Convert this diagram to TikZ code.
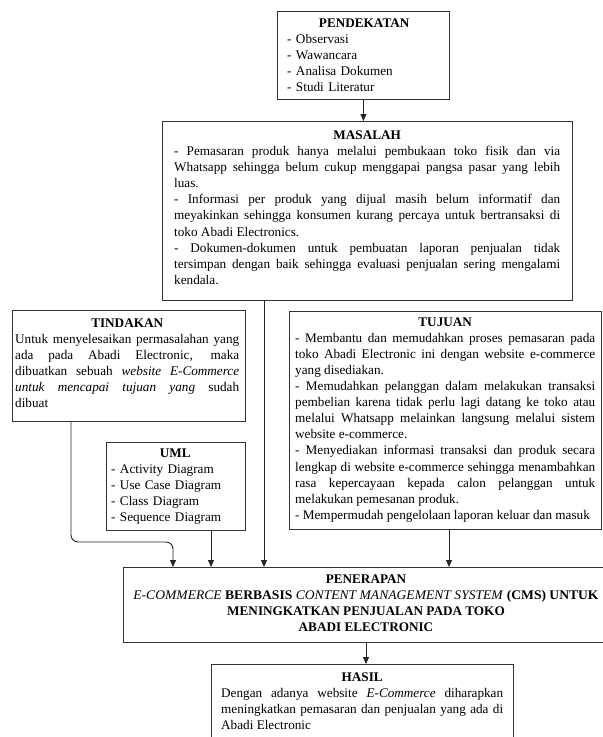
\documentclass[tikz,border=0pt]{standalone}
\usepackage{fontspec}
\setmainfont{Liberation Serif}
\usetikzlibrary{arrows.meta,calc}
\newcommand\myparset{\parindent=0pt \hyphenpenalty=10000 \exhyphenpenalty=10000 \relax}
\begin{document}
\begin{tikzpicture}[x=1pt,y=-1pt,
  box/.style={draw=black!80, line width=0.9pt, rectangle, inner sep=0pt, anchor=north west},
  txt/.style={inner sep=0pt, anchor=north west, align=justify,
    font=\fontsize{13.2}{16.1}\selectfont, execute at begin node=\myparset},
  ctxt/.style={inner sep=0pt, anchor=north, align=center,
    font=\fontsize{13.2}{15.9}\selectfont},
  arr/.style={draw=black!85, line width=0.9pt, -{Triangle[length=7pt,width=6pt]}}]
\clip (0,0) rectangle (603,737);
\fill[white] (0,0) rectangle (603,737);

% boxes
\node[box, minimum width=172, minimum height=88] (pend) at (277,11) {};
\node[box, minimum width=410, minimum height=179] (mas) at (162,121) {};
\node[box, minimum width=233, minimum height=111] (tind) at (12,310) {};
\node[box, minimum width=139, minimum height=88] (uml) at (106,442) {};
\node[box, minimum width=312, minimum height=218] (tuj) at (289,311) {};
\node[box, minimum width=500, minimum height=75] (pen) at (123,567) {};
\node[box, minimum width=302, minimum height=90] (has) at (211,664) {};

% texts
\node[txt, text width=154, align=left] (pendT) at (287,16) {{\centering\bfseries\strut PENDEKATAN\par}\strut - Observasi\par - Wawancara\par - Analisa Dokumen\par - Studi Literatur};

\node[txt, text width=386] (masT) at (174,128) {{\centering\bfseries\strut MASALAH\par}\strut - Pemasaran produk hanya melalui pembukaan toko fisik dan via\linebreak Whatsapp sehingga belum cukup menggapai pangsa pasar yang lebih\linebreak luas.\par
- Informasi per produk yang dijual masih belum informatif dan\linebreak meyakinkan sehingga konsumen kurang percaya untuk bertransaksi di\linebreak toko Abadi Electronics.\par
- Dokumen-dokumen untuk pembuatan laporan penjualan tidak\linebreak tersimpan dengan baik sehingga evaluasi penjualan sering mengalami\linebreak kendala.};

\node[txt, text width=224] (tindT) at (15,315.7) {{\centering\bfseries\strut TINDAKAN\par}\strut Untuk menyelesaikan permasalahan yang\linebreak ada pada Abadi Electronic, maka\linebreak dibuatkan sebuah \textit{website E-Commerce}\linebreak \textit{untuk mencapai tujuan yang} sudah\linebreak dibuat};

\node[txt, text width=128, align=left] (umlT) at (111,445.7) {{\centering\bfseries\strut UML\par}\strut - Activity Diagram\par - Use Case Diagram\par - Class Diagram\par - Sequence Diagram};

\node[txt, text width=300] (tujT) at (295,314.7) {{\centering\bfseries\strut TUJUAN\par}\strut - Membantu dan memudahkan proses pemasaran pada\linebreak toko Abadi Electronic ini dengan website e-commerce\linebreak yang disediakan.\par
- Memudahkan pelanggan dalam melakukan transaksi\linebreak pembelian karena tidak perlu lagi datang ke toko atau\linebreak melalui Whatsapp melainkan langsung melalui sistem\linebreak website e-commerce.\par
- Menyediakan informasi transaksi dan produk secara\linebreak lengkap di website e-commerce sehingga menambahkan\linebreak rasa kepercayaan kepada calon pelanggan untuk\linebreak melakukan pemesanan produk.\par
- Mempermudah pengelolaan laporan keluar dan masuk};

\node[ctxt] (penT) at (366,572) {\strut\textbf{PENERAPAN}\\\scalebox{1.03}[1]{\textit{E-COMMERCE} \textbf{BERBASIS} \textit{CONTENT MANAGEMENT SYSTEM} \textbf{(CMS) UNTUK}}\\\textbf{MENINGKATKAN PENJUALAN PADA TOKO}\\\textbf{ABADI ELECTRONIC}};

\node[txt, text width=282] (hasT) at (221,670) {{\centering\bfseries\strut HASIL\par}\strut Dengan adanya website \textit{E-Commerce} diharapkan\linebreak meningkatkan pemasaran dan penjualan yang ada di\linebreak Abadi Electronic};

% connectors
\coordinate (xa) at (264,0);
\coordinate (xu) at (211,0);
\coordinate (xt) at (449,0);
\coordinate (xi) at (71,0);
\coordinate (xj) at (173,0);
\coordinate (yb) at (0,542);
\coordinate (xh) at (366,0);
\draw[arr] (pend.south) -- (pend.south |- mas.north);
\draw[arr] (xa |- mas.south) -- (xa |- pen.north);
\draw[arr] (xu |- uml.south) -- (xu |- pen.north);
\draw[arr] (xt |- tuj.south) -- (xt |- pen.north);
\draw[arr, rounded corners=7] (xi |- tind.south) -- (xi |- yb) -- (xj |- yb) -- (xj |- pen.north);
\draw[arr] (xh |- pen.south) -- (xh |- has.north);
\end{tikzpicture}
\end{document}
